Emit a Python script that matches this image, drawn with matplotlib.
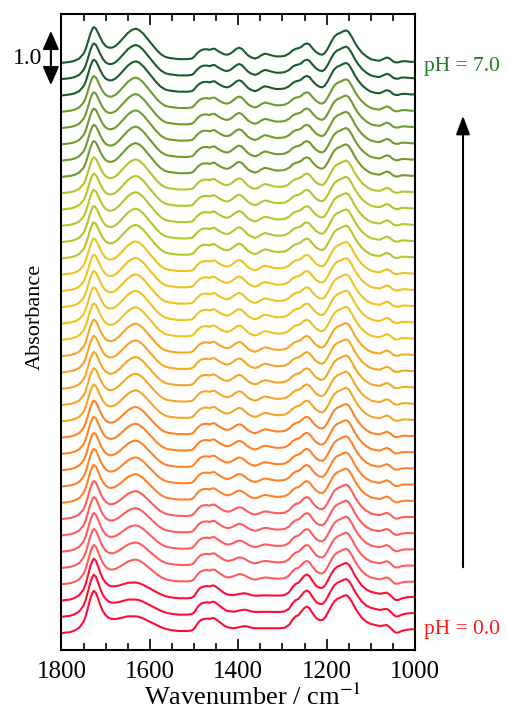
import numpy as np
import matplotlib.pyplot as plt
from matplotlib.patches import FancyArrowPatch
from matplotlib.transforms import blended_transform_factory

plt.rcParams['font.family'] = ['Liberation Serif', 'DejaVu Serif']
plt.rcParams['mathtext.fontset'] = 'stix'

# wavenumber grid (cm-1) and the two limiting spectra
wavenumber = [1800, 1790, 1780, 1770, 1760, 1750, 1745, 1740, 1735, 1730,
              1727, 1722, 1717, 1712, 1706, 1700, 1693, 1686, 1678, 1670,
              1660, 1650, 1640, 1632, 1625, 1615, 1605, 1595, 1585, 1575,
              1565, 1555, 1545, 1535, 1525, 1515, 1505, 1500, 1495, 1490,
              1485, 1478, 1470, 1465, 1458, 1453, 1448, 1440, 1432, 1425,
              1418, 1410, 1404, 1398, 1392, 1385, 1378, 1370, 1362, 1355,
              1348, 1340, 1333, 1325, 1315, 1305, 1295, 1285, 1277, 1270,
              1264, 1258, 1251, 1245, 1239, 1232, 1224, 1216, 1210, 1204,
              1197, 1190, 1183, 1176, 1170, 1163, 1156, 1150, 1143, 1136,
              1128, 1120, 1110, 1100, 1090, 1080, 1072, 1064, 1057, 1050,
              1044, 1038, 1030, 1020, 1010, 1000]

abs_ph0 = [0.00, 0.01, 0.02, 0.05, 0.10, 0.21, 0.32, 0.47, 0.63, 0.74,
           0.78, 0.74, 0.63, 0.51, 0.40, 0.33, 0.28, 0.26, 0.26, 0.27,
           0.29, 0.31, 0.31, 0.31, 0.30, 0.27, 0.23, 0.19, 0.15, 0.11,
           0.08, 0.06, 0.05, 0.04, 0.04, 0.04, 0.05, 0.08, 0.14, 0.20,
           0.24, 0.26, 0.27, 0.26, 0.28, 0.27, 0.24, 0.19, 0.14, 0.11,
           0.10, 0.09, 0.10, 0.11, 0.12, 0.13, 0.12, 0.10, 0.09, 0.09,
           0.09, 0.09, 0.09, 0.09, 0.09, 0.09, 0.10, 0.15, 0.25, 0.31,
           0.33, 0.39, 0.46, 0.49, 0.46, 0.37, 0.28, 0.24, 0.24, 0.28,
           0.38, 0.49, 0.58, 0.63, 0.65, 0.68, 0.70, 0.67, 0.58, 0.47,
           0.37, 0.28, 0.21, 0.17, 0.15, 0.13, 0.14, 0.15, 0.11, 0.05,
           0.01, 0.01, 0.04, 0.06, 0.07, 0.07]

abs_ph7 = [0.00, 0.01, 0.02, 0.04, 0.08, 0.17, 0.26, 0.39, 0.53, 0.63,
           0.66, 0.63, 0.55, 0.46, 0.37, 0.31, 0.28, 0.28, 0.31, 0.37,
           0.46, 0.55, 0.61, 0.63, 0.61, 0.54, 0.44, 0.34, 0.24, 0.16,
           0.11, 0.09, 0.08, 0.07, 0.07, 0.07, 0.08, 0.11, 0.16, 0.20,
           0.23, 0.25, 0.25, 0.24, 0.26, 0.26, 0.23, 0.19, 0.16, 0.15,
           0.17, 0.22, 0.26, 0.28, 0.26, 0.20, 0.14, 0.10, 0.08, 0.10,
           0.14, 0.17, 0.16, 0.14, 0.12, 0.12, 0.13, 0.17, 0.23, 0.26,
           0.27, 0.29, 0.34, 0.36, 0.34, 0.27, 0.20, 0.16, 0.15, 0.18,
           0.27, 0.38, 0.48, 0.53, 0.55, 0.58, 0.60, 0.57, 0.48, 0.37,
           0.27, 0.19, 0.12, 0.07, 0.05, 0.04, 0.07, 0.10, 0.08, 0.03,
           0.01, 0.01, 0.03, 0.03, 0.02, 0.02]

# pH of each trace and its share of the pH 7 form
ph_values = [0.0, 0.2, 0.4, 0.6, 0.8, 1.0, 1.2, 1.4, 1.6, 1.8,
             2.0, 2.2, 2.4, 2.6, 2.8, 3.0, 3.2, 3.4, 3.6, 3.8,
             4.0, 4.2, 4.4, 4.6, 4.8, 5.0, 5.2, 5.4, 5.6, 5.8,
             6.0, 6.2, 6.4, 6.6, 6.8, 7.0]
fraction_ph7 = [0.00, 0.03, 0.07, 0.45, 0.50, 0.55, 0.60, 0.64, 0.68, 0.71,
                0.74, 0.77, 0.80, 0.82, 0.84, 0.86, 0.88, 0.90, 0.91, 0.92,
                0.93, 0.94, 0.95, 0.96, 0.96, 0.97, 0.97, 0.98, 0.98, 0.99,
                0.99, 0.99, 1.00, 1.00, 1.00, 1.00]

group_colors = ['#ff0d35', '#ff5c5c', '#ff8226', '#f6a623', '#f0c31e',
                '#b7c42a', '#6f9a2c', '#185c2e']
group_sizes = [3, 5, 5, 5, 5, 5, 5, 3]
colors = [c for c, n in zip(group_colors, group_sizes) for _ in range(n)]

offset = 0.3
wn = np.array(wavenumber)
a0 = np.array(abs_ph0)
a7 = np.array(abs_ph7)

fig = plt.figure(figsize=(5.07, 7.16), dpi=100)
ax = fig.add_axes([0.1213, 0.0922, 0.6972, 0.8882])

for i, (f, c) in enumerate(zip(fraction_ph7, colors)):
    ax.plot(wn, a0 + f * (a7 - a0) + i * offset, color=c, lw=1.5)

ax.set_xlim(1800, 1000)
ax.set_ylim(-0.31, 11.40)
ax.set_xticks([1800, 1600, 1400, 1200, 1000])
ax.set_xticks(np.arange(1000, 1801, 50), minor=True)
ax.set_yticks([])
ax.tick_params(axis='x', which='both', direction='in', top=True, labelsize=18, pad=8)
ax.tick_params(axis='x', which='major', length=8, width=1.2)
ax.tick_params(axis='x', which='minor', length=5, width=1.2)
for s in ax.spines.values():
    s.set_linewidth(1.5)

fig.text(253 / 507, 1 - 697 / 716, 'Wavenumber / cm$^{-1}$', ha='center', va='center', fontsize=19)
fig.text(35 / 507, 1 - 317 / 716, 'Absorbance', ha='center', va='center', rotation=90, fontsize=16)

tr = blended_transform_factory(ax.transAxes, ax.transData)
top = (len(ph_values) - 1) * offset
ax.text(1.026, top - 0.06, 'pH = %.1f' % ph_values[-1], transform=tr, color='#1e7b1e',
        fontsize=15.5, va='center', ha='left')
ax.text(1.026, 0.06, 'pH = %.1f' % ph_values[0], transform=tr, color='#ff1a1a',
        fontsize=15.5, va='center', ha='left')

# scale bar of 1.0 absorbance
ax.annotate('', xy=(-0.030, 11.09), xytext=(-0.030, 10.09), xycoords=tr, textcoords=tr,
            arrowprops=dict(arrowstyle='<|-|>,head_length=0.8,head_width=0.35', color='k',
                            lw=1.5, mutation_scale=14, shrinkA=0, shrinkB=0),
            annotation_clip=False)
ax.text(-0.055, 10.59, '1.0', transform=tr, ha='right', va='center', fontsize=17)

# pH direction arrow
fig.patches.append(FancyArrowPatch(
    (463 / 507, 1 - 570 / 716), (463 / 507, 1 - 113 / 716), transform=fig.transFigure,
    arrowstyle='-|>,head_length=0.8,head_width=0.3', mutation_scale=14, color='k', lw=1.5))

fig.savefig('out.png', dpi=100, facecolor='w')
